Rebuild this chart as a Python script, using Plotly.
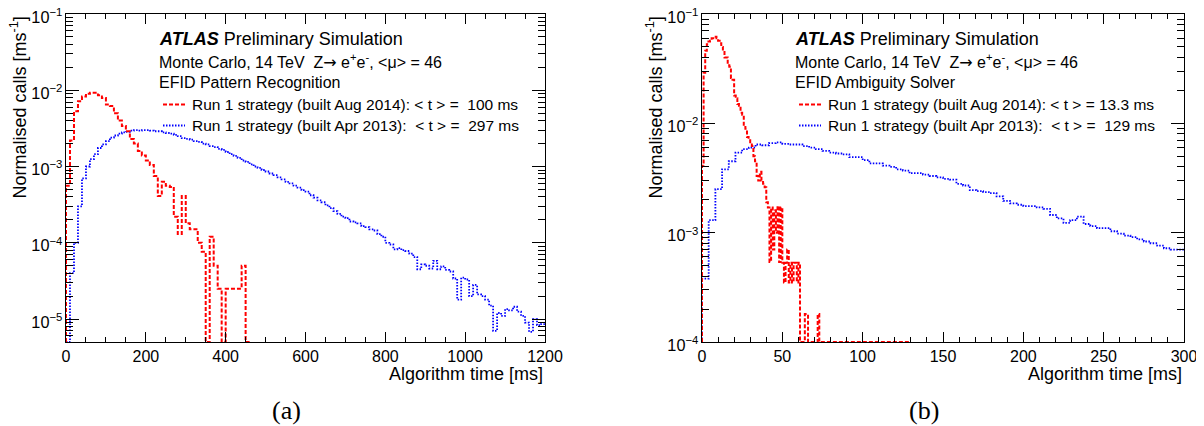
import numpy as np
import plotly.graph_objects as go

# the page body keeps its default 8 px margin, so the figure is shifted by that
PAGE_W, PAGE_H, BODY = 1204, 426, 8
W, H = PAGE_W - BODY, PAGE_H - BODY

# (a) EFID Pattern Recognition, 10 ms bins starting at 0 ms [normalised calls / ms]
pr_bin_ms = 10
pr_aug2014 = [
    5.6e-4, 2.2e-3, 5.3e-3, 7.2e-3, 8.3e-3, 9.0e-3, 9.3e-3, 9.3e-3, 8.6e-3, 7.9e-3,
    6.5e-3, 6.2e-3, 5.0e-3, 4.0e-3, 3.4e-3, 2.9e-3, 2.3e-3, 2.0e-3, 1.6e-3, 1.4e-3,
    1.2e-3, 1.05e-3, 7.5e-4, 4.1e-4, 6.3e-4, 5.6e-4, 5.4e-4, 2.2e-4, 1.3e-4, 4.1e-4,
    1.8e-4, 1.5e-4, 1.5e-4, 1.0e-4, 7.6e-5, 0, 1.2e-4, 5.0e-5, 2.5e-5, 0,
    2.5e-5, 2.5e-5, 2.5e-5, 2.5e-5, 5.0e-5, 0,
]
pr_apr2013 = [
    0, 4.0e-5, 1.0e-4, 3.0e-4, 7.0e-4, 1.0e-3, 1.25e-3, 1.45e-3, 1.75e-3, 1.95e-3,
    2.15e-3, 2.4e-3, 2.55e-3, 2.7e-3, 2.8e-3, 2.85e-3, 2.95e-3, 3.0e-3, 2.95e-3, 3.0e-3,
    3.0e-3, 2.95e-3, 2.9e-3, 2.9e-3, 2.8e-3, 2.75e-3, 2.7e-3, 2.6e-3, 2.5e-3, 2.35e-3,
    2.3e-3, 2.25e-3, 2.15e-3, 2.1e-3, 2.0e-3, 1.95e-3, 1.85e-3, 1.8e-3, 1.7e-3, 1.65e-3,
    1.55e-3, 1.45e-3, 1.38e-3, 1.3e-3, 1.2e-3, 1.15e-3, 1.07e-3, 1.0e-3, 9.6e-4, 9.0e-4,
    8.6e-4, 8.1e-4, 7.7e-4, 7.2e-4, 6.8e-4, 6.3e-4, 6.0e-4, 5.6e-4, 5.3e-4, 4.9e-4,
    4.7e-4, 4.2e-4, 3.9e-4, 3.6e-4, 3.4e-4, 3.1e-4, 2.85e-4, 2.6e-4, 2.4e-4, 2.2e-4,
    2.1e-4, 1.9e-4, 1.85e-4, 1.8e-4, 1.65e-4, 1.6e-4, 1.5e-4, 1.45e-4, 1.3e-4, 1.2e-4,
    1.0e-4, 9.5e-5, 8.2e-5, 8.5e-5, 8.0e-5, 7.8e-5, 7.2e-5, 6.5e-5, 4.5e-5, 5.2e-5,
    5.0e-5, 4.6e-5, 5.8e-5, 4.5e-5, 4.9e-5, 4.4e-5, 4.2e-5, 3.4e-5, 1.8e-5, 3.5e-5,
    3.3e-5, 2.0e-5, 2.8e-5, 2.1e-5, 2.0e-5, 1.8e-5, 1.5e-5, 7.0e-6, 1.2e-5, 1.1e-5,
    1.35e-5, 1.3e-5, 1.45e-5, 1.25e-5, 1.1e-5, 9.0e-6, 6.8e-6, 1.0e-5, 8.3e-6, 8.6e-6,
]

# (b) EFID Ambiguity Solver
amb_aug2014_bin_ms = 1
amb_aug2014 = [
    4.1e-3, 2.9e-2, 4.6e-2, 5.3e-2, 5.6e-2, 5.7e-2, 6.0e-2, 6.2e-2, 6.2e-2, 6.0e-2,
    5.7e-2, 5.4e-2, 5.0e-2, 4.6e-2, 4.0e-2, 4.0e-2, 3.4e-2, 3.3e-2, 2.6e-2, 2.5e-2,
    1.8e-2, 1.7e-2, 1.5e-2, 1.45e-2, 1.25e-2, 1.2e-2, 9.5e-3, 8.9e-3, 7.5e-3, 7.2e-3,
    6.4e-3, 6.2e-3, 5.0e-3, 4.5e-3, 3.3e-3, 3.0e-3, 3.6e-3, 3.0e-3, 2.8e-3, 2.6e-3,
    1.9e-3, 1.7e-3, 5.4e-4, 1.7e-3, 7.0e-4, 1.6e-3, 1.0e-3, 1.75e-3, 5.4e-4, 1.7e-3,
    5.3e-4, 3.5e-4, 5.3e-4, 7.0e-4, 3.5e-4, 5.3e-4, 3.5e-4, 5.3e-4, 5.3e-4, 3.5e-4,
    5.3e-4, 0, 0, 0, 1.8e-4, 1.8e-4, 0, 0, 0, 0,
    0, 0, 1.8e-4, 0, 0, 0, 0, 0, 0, 0,
    0, 0, 0, 0, 0, 0, 0, 0, 0, 0,
    0, 0, 0, 0, 0, 0, 0, 0, 0, 0,
    0, 0, 0, 0, 0, 0, 0, 0, 0, 0,
    0, 0, 0, 0, 0, 0, 0, 0, 0, 0,
    0, 0, 0, 0, 0, 0, 0, 0, 0, 0,
]
amb_apr2013_bin_ms = 25 / 6
amb_apr2013 = [
    3.8e-4, 1.3e-3, 2.5e-3, 3.8e-3, 4.5e-3, 5.4e-3, 5.8e-3, 6.0e-3, 6.4e-3, 6.3e-3,
    6.6e-3, 6.7e-3, 6.5e-3, 6.4e-3, 6.4e-3, 6.2e-3, 6.0e-3, 5.8e-3, 5.6e-3, 5.4e-3,
    5.3e-3, 5.2e-3, 4.9e-3, 4.9e-3, 4.6e-3, 4.3e-3, 4.3e-3, 4.1e-3, 4.0e-3, 3.8e-3,
    3.7e-3, 3.5e-3, 3.5e-3, 3.4e-3, 3.3e-3, 3.2e-3, 3.1e-3, 3.05e-3, 2.8e-3, 2.7e-3,
    2.45e-3, 2.4e-3, 2.35e-3, 2.3e-3, 2.15e-3, 1.95e-3, 1.85e-3, 1.8e-3, 1.75e-3, 1.75e-3,
    1.7e-3, 1.65e-3, 1.45e-3, 1.35e-3, 1.23e-3, 1.3e-3, 1.4e-3, 1.2e-3, 1.15e-3, 1.1e-3,
    1.1e-3, 1.03e-3, 9.8e-4, 9.4e-4, 9.1e-4, 8.7e-4, 8.3e-4, 8.0e-4, 7.6e-4, 7.2e-4,
    7.0e-4, 7.0e-4,
]

panel_names = ["EFID Pattern Recognition", "EFID Ambiguity Solver"]
mean_aug2014 = ["&nbsp;100 ms", "13.3 ms"]
mean_apr2013 = ["&nbsp;297 ms", "&nbsp;129 ms"]
captions = ["(a)", "(b)"]
x_ranges = [[0, 1200], [0, 300]]
x_major = [200, 50]
x_minor = [50, 10]
y_ranges = [[5e-6, 1e-1], [1e-4, 1e-1]]

RED = "#ff0000"
BLUE = "#0000ff"
FONT = "Liberation Sans, Arial, sans-serif"
RED_LINE = dict(color=RED, width=2, dash="4px,2px")
BLUE_LINE = dict(color=BLUE, width=1.8, dash="1.5px,1.5px")

# frame positions in page pixels
frames_x = [(66, 545), (702, 1184)]
Y_TOP, Y_BOT = 14, 342


def px(x):
    return (x - BODY) / W


def py(y):
    return 1 - (y - BODY) / H


def step_xy(values, width, floor):
    v = np.asarray(values, dtype=float)
    v = np.where(v > 0, v, floor)
    edges = np.arange(len(v) + 1) * width
    x = np.concatenate([[0.0], edges])
    y = np.concatenate([[floor], v, [v[-1]]])
    return x, y


fig = go.Figure()

series = [
    (pr_aug2014, pr_bin_ms, pr_apr2013, pr_bin_ms),
    (amb_aug2014, amb_aug2014_bin_ms, amb_apr2013, amb_apr2013_bin_ms),
]

for i, (red_vals, red_w, blue_vals, blue_w) in enumerate(series):
    xa = "x" if i == 0 else "x2"
    ya = "y" if i == 0 else "y2"
    floor = y_ranges[i][0]
    bx, by = step_xy(blue_vals, blue_w, floor)
    fig.add_trace(go.Scatter(
        x=bx, y=by, xaxis=xa, yaxis=ya, mode="lines", showlegend=False,
        line=dict(**BLUE_LINE, shape="hv"),
    ))
    rx, ry = step_xy(red_vals, red_w, floor)
    fig.add_trace(go.Scatter(
        x=rx, y=ry, xaxis=xa, yaxis=ya, mode="lines", showlegend=False,
        line=dict(**RED_LINE, shape="hv"),
    ))


def x_axis(i, anchor):
    x0, x1 = frames_x[i]
    return dict(
        domain=[px(x0), px(x1)], anchor=anchor, range=x_ranges[i], automargin=False,
        tick0=0, dtick=x_major[i], ticks="inside", ticklen=10, tickcolor="black",
        minor=dict(ticks="inside", ticklen=5, tick0=0, dtick=x_minor[i], tickcolor="black"),
        showline=True, linecolor="black", linewidth=1, mirror="ticks",
        tickfont=dict(size=16, color="black"), ticklabeloverflow="allow",
        showgrid=False, zeroline=False,
    )


def y_axis(i, anchor):
    lo, hi = y_ranges[i]
    return dict(
        domain=[py(Y_BOT), py(Y_TOP)], anchor=anchor, type="log", automargin=False,
        range=[np.log10(lo), np.log10(hi)], dtick=1, exponentformat="power",
        ticks="inside", ticklen=13, tickcolor="black",
        minor=dict(ticks="inside", ticklen=7, dtick="D1", tickcolor="black"),
        showline=True, linecolor="black", linewidth=1, mirror="ticks",
        tickfont=dict(size=13, color="black"), ticklabeloverflow="allow",
        ticklabelshift=3, showgrid=False, zeroline=False,
    )


annotations = []
shapes = []
for i in range(2):
    x0, x1 = frames_x[i]
    tx = x0 + 91
    lx = x0 + 97
    rows = [39, 61, 82, 104.5, 125.5]

    def note(text, x, y, size, **kw):
        d = dict(text=text, x=px(x), y=py(y), xref="paper", yref="paper",
                 showarrow=False, xanchor="left", yanchor="middle",
                 font=dict(size=size, color="black", family=FONT))
        d.update(kw)
        annotations.append(d)

    note("<b><i>ATLAS</i></b> Preliminary Simulation", tx, rows[0], 18)
    note("Monte Carlo, 14 TeV&nbsp; Z<span style=\"font-family:DejaVu Sans\">\u2192</span>"
         " e<sup>+</sup>e<sup>-</sup>, &lt;\u03bc&gt; = 46", tx, rows[1], 16)
    note(panel_names[i], tx, rows[2], 16)
    note("Run 1 strategy (built Aug 2014): &lt; t &gt; = " + mean_aug2014[i],
         lx + 27, rows[3], 15.5)
    note("Run 1 strategy (built Apr 2013):&nbsp; &lt; t &gt; = " + mean_apr2013[i],
         lx + 27, rows[4], 15.5)

    shapes.append(dict(type="line", xref="paper", yref="paper",
                       x0=px(lx), x1=px(lx + 22), y0=py(rows[3]), y1=py(rows[3]),
                       line=RED_LINE))
    shapes.append(dict(type="line", xref="paper", yref="paper",
                       x0=px(lx), x1=px(lx + 22), y0=py(rows[4]), y1=py(rows[4]),
                       line=BLUE_LINE))

    # axis titles
    note("Algorithm time [ms]", x1, 374, 18, xanchor="right")
    note("Normalised calls [ms<sup>-1</sup>]", x0 - 47.5, Y_TOP + 1, 18,
         xanchor="center", yanchor="top", textangle=-90)
    # caption
    note(captions[i], x0 + 0.461 * (x1 - x0), 410, 26, xanchor="center",
         font=dict(size=26, color="black", family="Liberation Serif, Times New Roman, serif"))

fig.update_layout(
    width=W, height=H,
    margin=dict(l=0, r=0, t=0, b=0, autoexpand=False),
    paper_bgcolor="white", plot_bgcolor="white",
    font=dict(family=FONT, color="black"),
    xaxis=x_axis(0, "y"), yaxis=y_axis(0, "x"),
    xaxis2=x_axis(1, "y2"), yaxis2=y_axis(1, "x2"),
    annotations=annotations, shapes=shapes,
    showlegend=False,
)

fig.write_html("out.html")
